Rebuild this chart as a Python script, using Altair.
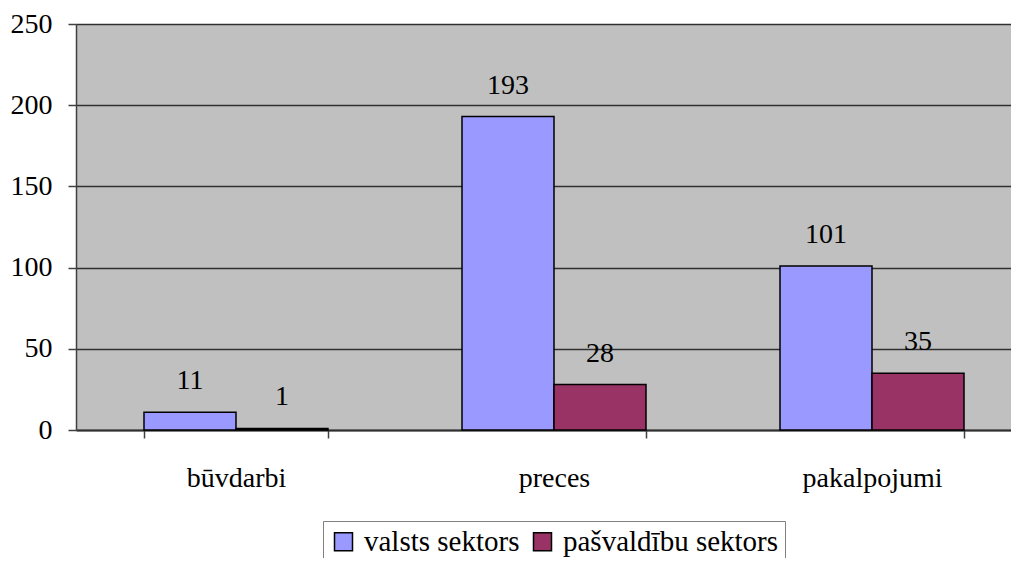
import altair as alt
import pandas as pd

categories = ["būvdarbi", "preces", "pakalpojumi"]
series = ["valsts sektors", "pašvaldību sektors"]
valsts = [11, 193, 101]
pasvaldibu = [1, 28, 35]
y_ticks = [0, 50, 100, 150, 200, 250]
colors = ["#9999FF", "#993366"]

rows = []
for c, v in zip(categories, valsts):
    rows.append({"kategorija": c, "sektors": series[0], "vertiba": v})
for c, v in zip(categories, pasvaldibu):
    rows.append({"kategorija": c, "sektors": series[1], "vertiba": v})
df = pd.DataFrame(rows)

FONT = "Liberation Serif"

x = alt.X(
    "kategorija:N",
    sort=categories,
    title=None,
    scale=alt.Scale(paddingInner=0.4214, paddingOuter=0.1808, align=0.5913),
    axis=alt.Axis(
        tickBand="extent",
        tickSize=8,
        tickColor="#404040",
        tickWidth=1.5,
        domainColor="#303030",
        domainWidth=2,
        labelAngle=0,
        labelFont=FONT,
        labelFontSize=28,
        labelColor="black",
        labelPadding=26,
        grid=False,
    ),
)
xo = alt.XOffset("sektors:N", sort=series, scale=alt.Scale(paddingInner=0, paddingOuter=0))
y = alt.Y(
    "vertiba:Q",
    title=None,
    scale=alt.Scale(domain=[0, 250], nice=False),
    axis=alt.Axis(
        values=y_ticks,
        tickSize=8,
        tickColor="#404040",
        tickWidth=1.5,
        domainColor="#404040",
        domainWidth=1.5,
        labelFont=FONT,
        labelFontSize=28,
        labelColor="black",
        labelPadding=16,
        grid=True,
        gridColor="#303030",
        gridWidth=1.5,
    ),
)

bars = alt.Chart(df).mark_bar(stroke="black", strokeWidth=1.5).encode(
    x=x,
    xOffset=xo,
    y=y,
    color=alt.Color(
        "sektors:N",
        sort=series,
        scale=alt.Scale(domain=series, range=colors),
        legend=alt.Legend(
            title=None,
            orient="none",
            legendX=247,
            legendY=497,
            direction="horizontal",
            strokeColor="#808080",
            fillColor="white",
            padding=6,
            symbolType="square",
            symbolSize=324,
            symbolStrokeColor="black",
            symbolStrokeWidth=1.5,
            symbolOpacity=1,
            labelFont=FONT,
            labelFontSize=29,
            labelColor="black",
            labelOffset=6,
            columnPadding=8,
            labelLimit=400,
        ),
    ),
)

labels = alt.Chart(df).mark_text(
    font=FONT, fontSize=28, color="black", baseline="middle", dy=-31
).encode(
    x=x,
    xOffset=xo,
    y=y,
    text=alt.Text("vertiba:Q"),
)

chart = (
    alt.layer(bars, labels)
    .properties(
        width=935,
        height=406,
        autosize=alt.AutoSizeParams(type="none"),
        padding={"left": 68, "top": 16, "right": 0, "bottom": 128},
        background="white",
    )
    .configure(font=FONT)
    .configure_view(fill="#C0C0C0", strokeWidth=0)
)

chart.save("out.html", embed_options={"renderer": "svg", "actions": False})
